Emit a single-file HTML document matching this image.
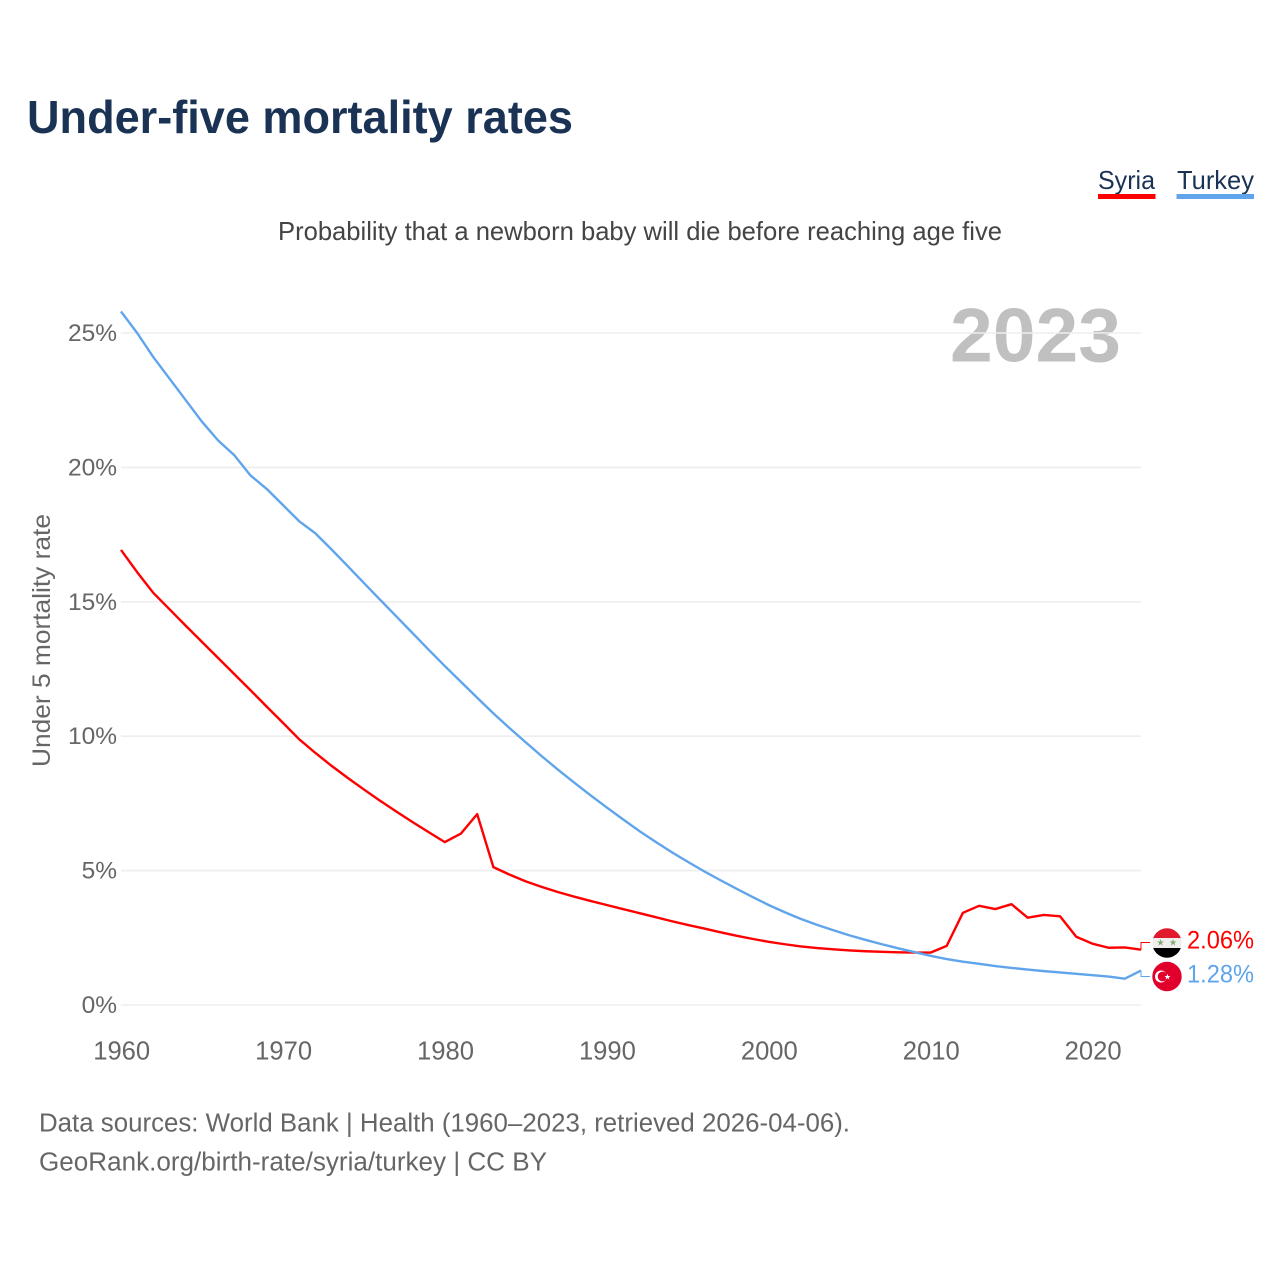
<!DOCTYPE html>
<html lang="en">
<head>
<meta charset="utf-8">
<title>Under-five mortality rates</title>
<style>
html,body{margin:0;padding:0;background:#fff;}
svg{display:block;}
text{font-family:"Liberation Sans",sans-serif;}
</style>
</head>
<body>
<svg id="chart" xmlns="http://www.w3.org/2000/svg" width="1280" height="1280" viewBox="0 0 1280 1280">
  <defs>
    <clipPath id="flag-clip-syria"><circle cx="1167" cy="943" r="14.7"/></clipPath>
    <clipPath id="flag-clip-turkey"><circle cx="1167" cy="976.5" r="14.7"/></clipPath>
  </defs>
  <text x="27" y="133" font-size="46" font-weight="700" fill="#1a3354" textLength="546" lengthAdjust="spacingAndGlyphs">Under-five mortality rates</text>
  <g>
    <g>
      <text x="1098" y="189" font-size="26" fill="#1a3354" textLength="57" lengthAdjust="spacingAndGlyphs">Syria</text>
      <rect x="1098" y="194" width="57.5" height="5" fill="#ff0000"/>
    </g>
    <g>
      <text x="1177" y="189" font-size="26" fill="#1a3354" textLength="77" lengthAdjust="spacingAndGlyphs">Turkey</text>
      <rect x="1176.5" y="194" width="77.5" height="5" fill="#60a5ec"/>
    </g>
  </g>
  <text x="278" y="240" font-size="26" fill="#444444" textLength="724" lengthAdjust="spacingAndGlyphs">Probability that a newborn baby will die before reaching age five</text>
  <text x="950" y="361.5" font-size="76" font-weight="700" fill="#c0c0c0" textLength="171" lengthAdjust="spacingAndGlyphs">2023</text>
  <text transform="translate(50,767) rotate(-90)" font-size="25" fill="#666666" textLength="253" lengthAdjust="spacingAndGlyphs">Under 5 mortality rate</text>
  <g id="grid"></g>
  <g id="yticks"></g>
  <g id="xticks"></g>
  <g id="series"></g>
  <g>
    <g clip-path="url(#flag-clip-syria)">
      <rect x="1152" y="928" width="30" height="10.5" fill="#e0192d"/>
      <rect x="1152" y="938" width="30" height="10" fill="#eeeeee"/>
      <rect x="1152" y="948" width="30" height="10" fill="#000000"/>
    </g>
    <text x="1160.5" y="945.5" font-size="9" text-anchor="middle" fill="#7fa86e">★</text>
    <text x="1173" y="945.5" font-size="9" text-anchor="middle" fill="#7fa86e">★</text>
  </g>
  <g>
    <circle cx="1167" cy="976.5" r="14.7" fill="#e0002b"/>
    <circle cx="1161" cy="976.5" r="6" fill="#ffffff"/>
    <circle cx="1162.6" cy="976.5" r="4.9" fill="#e0002b"/>
    <text x="1167.5" y="979.5" font-size="8" text-anchor="middle" fill="#ffffff">★</text>
  </g>
  <text x="39" y="1131.5" font-size="25.5" fill="#666666" textLength="811" lengthAdjust="spacingAndGlyphs">Data sources: World Bank | Health (1960–2023, retrieved 2026-04-06).</text>
  <text x="39" y="1170.5" font-size="25.5" fill="#666666" textLength="508" lengthAdjust="spacingAndGlyphs">GeoRank.org/birth-rate/syria/turkey | CC BY</text>
</svg>
<script>
const firstYear = 1960;
const lastYear = 2023;
const syriaValues = [16.93,16.1,15.33,14.72,14.11,13.51,12.91,12.31,11.71,11.1,10.5,9.89,9.38,8.9,8.45,8.02,7.6,7.2,6.81,6.43,6.06,6.38,7.1,5.13,4.85,4.6,4.39,4.2,4.03,3.87,3.72,3.57,3.42,3.27,3.12,2.98,2.85,2.71,2.58,2.46,2.35,2.26,2.18,2.12,2.07,2.03,2.0,1.98,1.96,1.95,1.95,2.2,3.43,3.69,3.57,3.75,3.25,3.35,3.3,2.54,2.28,2.13,2.14,2.06];
const turkeyValues = [25.8,25.0,24.1,23.3,22.5,21.7,21.0,20.45,19.7,19.2,18.6,18.0,17.55,16.95,16.33,15.7,15.08,14.46,13.84,13.22,12.61,12.02,11.43,10.85,10.3,9.77,9.25,8.75,8.27,7.8,7.35,6.91,6.48,6.08,5.69,5.33,4.98,4.65,4.33,4.02,3.72,3.45,3.2,2.98,2.78,2.59,2.42,2.26,2.11,1.97,1.83,1.71,1.61,1.53,1.45,1.38,1.32,1.26,1.21,1.16,1.11,1.06,0.98,1.28];
const yTicks = [0,5,10,15,20,25];
const xTicks = [1960,1970,1980,1990,2000,2010,2020];
const endLabels = ["2.06%","1.28%"];

const NS = "http://www.w3.org/2000/svg";
function xScale(year){ return 121 + (year - firstYear) * (1141 - 121) / (lastYear - firstYear); }
function yScale(v){ return 1005 - v * 26.88; }
function make(tag, attrs, parent){
  const el = document.createElementNS(NS, tag);
  for (const k in attrs) el.setAttribute(k, attrs[k]);
  parent.appendChild(el);
  return el;
}
const grid = document.getElementById("grid");
const yG = document.getElementById("yticks");
const xG = document.getElementById("xticks");
const seriesG = document.getElementById("series");

yTicks.forEach(function(t){
  const line = make("line", {x1:121, x2:1141, y1:yScale(t), y2:yScale(t), stroke:"#eeeeee", "stroke-width":1.6}, grid);
  
  
  const label = make("text", {x:117, y:yScale(t)+8, "text-anchor":"end", "font-size":24.5, fill:"#666666"}, yG);
  
  
  label.textContent = t + "%";
});
xTicks.forEach(function(t){
  const label = make("text", {x:xScale(t)+0.7, y:1059.5, "text-anchor":"middle", "font-size":25.6, fill:"#666666"}, xG);
  
  
  label.textContent = t;
});

function linePath(values){
  return values.map(function(v, i){
    return (i ? "L" : "M") + xScale(firstYear + i).toFixed(2) + " " + yScale(v).toFixed(2);
  }).join(" ");
}
const syriaLine = make("path", {d:linePath(syriaValues), fill:"none", stroke:"#ff0000", "stroke-width":2.4, "stroke-linejoin":"round"}, seriesG);


const turkeyLine = make("path", {d:linePath(turkeyValues), fill:"none", stroke:"#60a5ec", "stroke-width":2.4, "stroke-linejoin":"round"}, seriesG);



const syriaEnd = yScale(syriaValues[syriaValues.length - 1]);
const turkeyEnd = yScale(turkeyValues[turkeyValues.length - 1]);
const syriaLeader = make("path", {d:"M1141 " + syriaEnd + " V942.5 H1150", fill:"none", stroke:"#ff0000", "stroke-width":1}, seriesG);


const turkeyLeader = make("path", {d:"M1141 " + turkeyEnd + " V976.5 H1150", fill:"none", stroke:"#60a5ec", "stroke-width":1}, seriesG);



const syriaLabel = make("text", {x:1187, y:948.5, "font-size":25, fill:"#ff0000", textLength:67, lengthAdjust:"spacingAndGlyphs"}, seriesG);


syriaLabel.textContent = endLabels[0];
const turkeyLabel = make("text", {x:1187, y:982.5, "font-size":25, fill:"#60a5ec", textLength:67, lengthAdjust:"spacingAndGlyphs"}, seriesG);


turkeyLabel.textContent = endLabels[1];
</script>
</body>
</html>
